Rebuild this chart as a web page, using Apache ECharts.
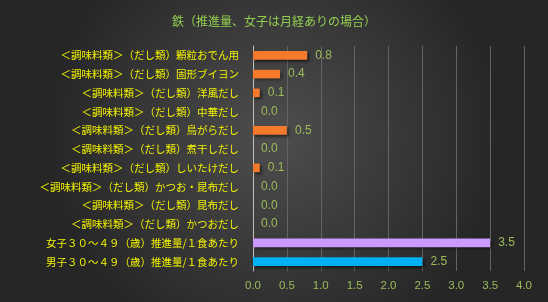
<!DOCTYPE html>
<html><head><meta charset="utf-8">
<script src="https://cdn.jsdelivr.net/npm/echarts@6/dist/echarts.min.js"></script>
<style>html,body{margin:0;padding:0;background:#333;}#c{width:548px;height:302px;}</style>
</head><body><div id="c"></div>
<script>
const title = '鉄（推進量、女子は月経ありの場合）';
const categories = [
  '＜調味料類＞（だし類）顆粒おでん用',
  '＜調味料類＞（だし類）固形ブイヨン',
  '＜調味料類＞（だし類）洋風だし',
  '＜調味料類＞（だし類）中華だし',
  '＜調味料類＞（だし類）鳥がらだし',
  '＜調味料類＞（だし類）煮干しだし',
  '＜調味料類＞（だし類）しいたけだし',
  '＜調味料類＞（だし類）かつお・昆布だし',
  '＜調味料類＞（だし類）昆布だし',
  '＜調味料類＞（だし類）かつおだし',
  '女子３０～４９（歳）推進量/１食あたり',
  '男子３０～４９（歳）推進量/１食あたり'
];
const values = [0.8, 0.4, 0.1, 0.0, 0.5, 0.0, 0.1, 0.0, 0.0, 0.0, 3.5, 2.5];
const barColors = ['#F57A2C','#F57A2C','#F57A2C','#F57A2C','#F57A2C','#F57A2C','#F57A2C','#F57A2C','#F57A2C','#F57A2C','#CC99FF','#00B0F0'];
const xTicks = {min: 0, max: 4, interval: 0.5};

const chart = echarts.init(document.getElementById('c'));
chart.setOption({
  backgroundColor: {
    type: 'radial', x: 0.5, y: 0.45, r: 0.75,
    colorStops: [{offset: 0, color: '#4e4e4e'}, {offset: 1, color: '#262626'}]
  },
  animation: false,
  title: {
    text: title, left: 'center', top: 10,
    textStyle: {color: '#92D050', fontSize: 12, fontWeight: 'normal', fontFamily: 'Noto Sans CJK JP'}
  },
  grid: {left: 253, right: 24, top: 46, bottom: 31, containLabel: false},
  xAxis: {
    type: 'value', min: xTicks.min, max: xTicks.max, interval: xTicks.interval,
    axisLine: {show: false}, axisTick: {show: false},
    axisLabel: {color: '#9BBB59', fontSize: 11.5, fontFamily: 'Liberation Sans', margin: 9,
      formatter: v => v.toFixed(1)},
    splitLine: {show: true, lineStyle: {color: '#646464', width: 1}}
  },
  yAxis: {
    type: 'category', data: categories, inverse: true,
    axisLine: {show: true, lineStyle: {color: '#bfbfbf', width: 1}},
    axisTick: {show: false},
    axisLabel: {color: '#F2F200', fontSize: 10.5, fontFamily: 'Noto Sans CJK JP', margin: 14}
  },
  series: [{
    type: 'bar', barWidth: '46%',
    data: values.map((v, i) => ({value: v, itemStyle: {color: barColors[i]}})),
    itemStyle: {shadowColor: 'rgba(0,0,0,0.55)', shadowBlur: 3, shadowOffsetX: 2, shadowOffsetY: 2},
    label: {show: true, position: 'right', distance: 8, color: '#9BBB59', fontSize: 12,
      fontFamily: 'Liberation Sans', formatter: p => p.value.toFixed(1)}
  }]
});
</script></body></html>
